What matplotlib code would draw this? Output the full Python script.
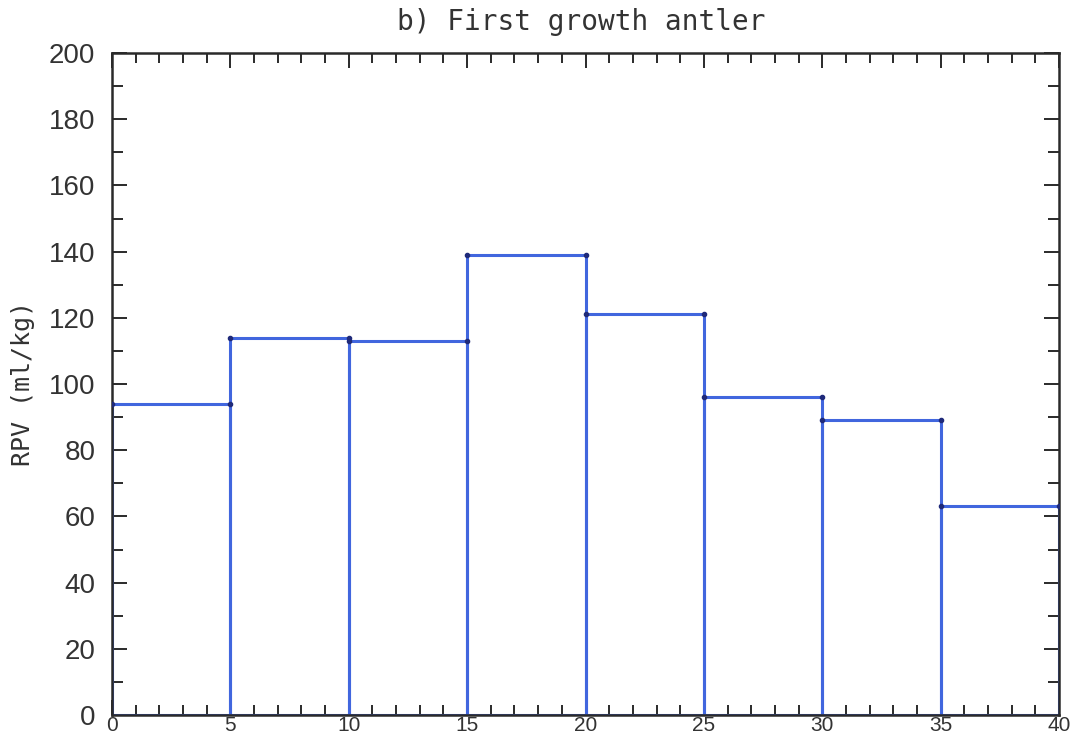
import matplotlib
matplotlib.use('Agg')
import matplotlib.pyplot as plt
from matplotlib.ticker import MultipleLocator

# bin edges (left) and RPV values
bin_left = [0, 5, 10, 15, 20, 25, 30, 35]
bin_width = 5
rpv = [94, 114, 113, 139, 121, 96, 89, 63]

blue = '#4166de'
ink = '#2a2a2a'

fig = plt.figure(figsize=(10.76, 7.4), dpi=100)
ax = fig.add_axes([112/1076, 1 - 715/740, (1059 - 112)/1076, (715 - 53)/740])

ax.bar(bin_left, rpv, width=bin_width, align='edge', fill=False,
       edgecolor=blue, linewidth=2.2, zorder=2)
# corner dots at the top of each bar
for x0, v in zip(bin_left, rpv):
    ax.plot([x0, x0 + bin_width], [v, v], linestyle='none', marker='o',
            markersize=3, color='#1f2a7a', zorder=3)

ax.set_xlim(0, 40)
ax.set_ylim(0, 200)
ax.xaxis.set_major_locator(MultipleLocator(5))
ax.xaxis.set_minor_locator(MultipleLocator(1))
ax.yaxis.set_major_locator(MultipleLocator(20))
ax.yaxis.set_minor_locator(MultipleLocator(10))
ax.tick_params(which='both', direction='in', top=True, right=True,
               color=ink, width=1.4, labelcolor='#333333')
ax.tick_params(which='major', length=11)
ax.tick_params(which='minor', length=7)
ax.tick_params(axis='y', which='major', length=11, pad=12, labelsize=20)
ax.tick_params(axis='y', which='minor', length=8)
ax.tick_params(axis='x', pad=1, labelsize=15)
for lab in ax.get_xticklabels() + ax.get_yticklabels():
    lab.set_family('Liberation Sans')
for s in ax.spines.values():
    s.set_linewidth(1.8)
    s.set_color(ink)

ax.set_ylabel('RPV (ml/kg)', fontsize=18, family='DejaVu Sans Mono',
              color='#333333', labelpad=10)
fig.text(0.54, 0.97, 'b) First growth antler', ha='center', va='center',
         fontsize=20, family='DejaVu Sans Mono', color='#333333')

fig.savefig('out.png', dpi=100)
